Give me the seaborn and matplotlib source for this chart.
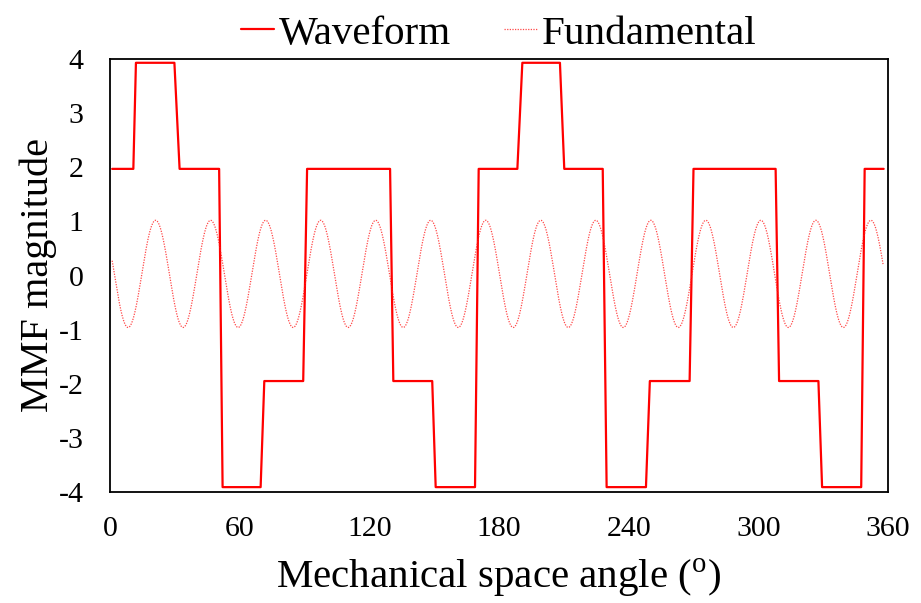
import numpy as np
import pandas as pd
import matplotlib
matplotlib.use("Agg")
import matplotlib.pyplot as plt
import seaborn as sns

# ---- data ----
# stepped MMF waveform: polyline vertices (angle in degrees, magnitude)
wave_angle = [1.0, 10.8, 12.0, 29.8, 32.2, 50.5, 52.1, 69.7, 71.4, 89.4, 91.2,
              129.6, 131.1, 149.1, 150.7, 168.9, 170.6, 188.5, 190.8, 208.2,
              210.2, 228.0, 229.8, 248.0, 249.8, 268.2, 270.0, 308.0, 309.6,
              327.8, 329.5, 347.6, 349.2, 358.0]
wave_mmf = [1.97, 1.97, 3.93, 3.93, 1.97, 1.97, -3.91, -3.91, -1.95, -1.95, 1.97,
            1.97, -1.95, -1.95, -3.91, -3.91, 1.97, 1.97, 3.93, 3.93,
            1.97, 1.97, -3.91, -3.91, -1.95, -1.95, 1.97, 1.97, -1.95,
            -1.95, -3.91, -3.91, 1.97, 1.97]

# fundamental (working harmonic)
fund_amplitude = 0.99
fund_offset = 0.03
fund_period_deg = 25.46
fund_first_peak_deg = 21.1
fund_start_deg = 1.0
fund_end_deg = 357.7

x_ticks = [0, 60, 120, 180, 240, 300, 360]
y_ticks = [-4, -3, -2, -1, 0, 1, 2, 3, 4]

wave_df = pd.DataFrame({"angle": wave_angle, "mmf": wave_mmf})
fa = np.linspace(fund_start_deg, fund_end_deg, 3000)
fund_df = pd.DataFrame({
    "angle": fa,
    "mmf": fund_offset + fund_amplitude * np.cos(2 * np.pi * (fa - fund_first_peak_deg) / fund_period_deg),
})

# ---- style ----
sns.set_theme(style="white")
plt.rcParams["font.family"] = ["Liberation Serif", "DejaVu Serif"]
plt.rcParams["mathtext.fontset"] = "custom"
plt.rcParams["mathtext.rm"] = "Liberation Serif"
plt.rcParams["axes.unicode_minus"] = False
for k in ["text.color", "axes.labelcolor", "xtick.color", "ytick.color"]:
    plt.rcParams[k] = "black"

fig = plt.figure(figsize=(9.21, 6.03), dpi=100)
ax = fig.add_axes([110 / 921, 1 - 492 / 603, 778 / 921, 433 / 603])

sns.lineplot(data=wave_df, x="angle", y="mmf", ax=ax, color="#ff0000",
             linewidth=1.6, sort=False, label="Waveform")
sns.lineplot(data=fund_df, x="angle", y="mmf", ax=ax, color="#ff1a1a",
             linewidth=0.9, linestyle=(0, (1, 1.1)), alpha=0.8, sort=False,
             label="Fundamental")

ax.set_xlim(0, 360)
ax.set_ylim(-4, 4)
ax.set_xticks(x_ticks)
ax.set_yticks(y_ticks)
ax.tick_params(axis="both", length=0, labelsize=21.5, colors="black")
ax.tick_params(axis="x", pad=17)
ax.tick_params(axis="y", pad=19)
ax.set_xlabel(r"Mechanical space angle ($^\mathrm{o}$)", fontsize=29.5, color="black", labelpad=11)
ax.set_ylabel("MMF magnitude", fontsize=29, color="black", labelpad=1)
for s in ax.spines.values():
    s.set_color("black")
    s.set_linewidth(1.3)
    s.set_visible(True)

leg = ax.legend(loc="lower center", bbox_to_anchor=(0.5, 1.005), ncol=2,
                frameon=False, fontsize=29.5, handlelength=0.8,
                handletextpad=0.12, columnspacing=1.3, borderpad=0.1,
                borderaxespad=0.0)
for t in leg.get_texts():
    t.set_color("black")

fig.savefig("out.png", dpi=100)
